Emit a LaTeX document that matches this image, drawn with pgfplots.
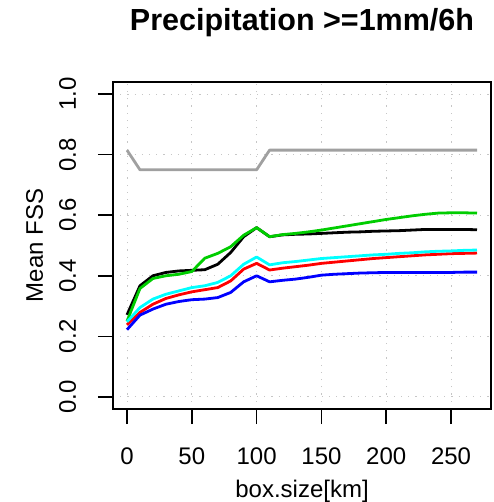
\documentclass[border=0pt]{standalone}
\usepackage{pgfplots}
\usepackage{pgfplotstable}
\pgfplotsset{compat=1.18}
\usepackage{fontspec}
\setmainfont{Liberation Sans}
\definecolor{rgreen}{RGB}{0,205,0}
\definecolor{rgray}{RGB}{160,160,160}
\definecolor{rcyan}{RGB}{0,255,255}
\definecolor{rred}{RGB}{255,0,0}
\definecolor{rblue}{RGB}{0,0,255}
\pgfplotstableread{
x gray black green cyan red blue
0 0.815 0.271 0.250 0.248 0.238 0.222
10 0.750 0.367 0.358 0.295 0.279 0.270
20 0.750 0.400 0.391 0.323 0.306 0.290
30 0.750 0.411 0.400 0.339 0.325 0.306
40 0.750 0.416 0.405 0.350 0.337 0.315
50 0.750 0.418 0.414 0.361 0.347 0.321
60 0.750 0.420 0.458 0.367 0.354 0.323
70 0.750 0.438 0.474 0.378 0.361 0.328
80 0.750 0.477 0.496 0.400 0.383 0.345
90 0.750 0.529 0.534 0.438 0.422 0.380
100 0.750 0.559 0.559 0.462 0.441 0.400
110 0.815 0.529 0.529 0.436 0.419 0.380
120 0.815 0.535 0.536 0.443 0.425 0.385
130 0.815 0.537 0.540 0.447 0.430 0.389
140 0.815 0.538 0.545 0.452 0.435 0.395
150 0.815 0.540 0.551 0.457 0.441 0.402
160 0.815 0.542 0.558 0.460 0.445 0.405
170 0.815 0.544 0.565 0.463 0.449 0.407
180 0.815 0.545 0.572 0.466 0.453 0.409
190 0.815 0.547 0.579 0.469 0.457 0.410
200 0.815 0.548 0.586 0.471 0.460 0.411
210 0.815 0.549 0.592 0.474 0.463 0.411
220 0.815 0.551 0.598 0.476 0.466 0.411
230 0.815 0.553 0.603 0.479 0.469 0.411
240 0.815 0.553 0.607 0.481 0.471 0.411
250 0.815 0.553 0.608 0.482 0.473 0.411
260 0.815 0.553 0.608 0.484 0.474 0.412
270 0.815 0.552 0.607 0.485 0.475 0.412
}\datatable
\begin{document}
\begin{tikzpicture}
\path[use as bounding box] (0,0) rectangle (494bp,502bp);
\begin{axis}[
  at={(113bp,93bp)}, anchor=south west,
  width=378bp, height=327bp, scale only axis,
  xmin=-10.8, xmax=280.8, ymin=-0.04, ymax=1.04,
  xtick={0,50,100,150,200,250},
  ytick={0,0.2,0.4,0.6,0.8,1.0},
  yticklabels={0.0,0.2,0.4,0.6,0.8,1.0},
  xtick pos=bottom, ytick pos=left,
  tick align=outside,
  major tick length=15bp,
  every tick/.style={black, line width=1.6bp},
  axis line style={line width=1.6bp},
  /pgf/number format/assume math mode=true,
  tick label style={font=\fontsize{24bp}{28bp}\selectfont},
  xticklabel style={anchor=base, yshift=-40bp},
  yticklabel style={xshift=-22bp, rotate=90, anchor=base},
  grid=major,
  major grid style={gray!45, line width=1bp, dash pattern=on 1.2bp off 6bp},
  xlabel={box.size[km]},
  ylabel={Mean FSS},
  label style={font=\fontsize{24bp}{28bp}\selectfont},
  xlabel style={at={(axis description cs:0.5,0)}, anchor=base, yshift=-88bp},
  every axis y label/.style={at={(axis description cs:0,0.5)}, xshift=-70bp, rotate=90, anchor=base, font=\fontsize{24bp}{28bp}\selectfont},
  title={\textbf{Precipitation >=1mm/6h}},
  title style={font=\fontsize{30.5bp}{36bp}\selectfont, at={(axis description cs:0.5,1)}, anchor=base, yshift=46bp},
  every axis plot/.append style={line width=2.8bp, line join=round},
]
\addplot[black] table[x=x,y=black] {\datatable};
\addplot[rred] table[x=x,y=red] {\datatable};
\addplot[rgreen] table[x=x,y=green] {\datatable};
\addplot[rblue] table[x=x,y=blue] {\datatable};
\addplot[rcyan] table[x=x,y=cyan] {\datatable};
\addplot[rgray] table[x=x,y=gray] {\datatable};
\end{axis}
\end{tikzpicture}
\end{document}
